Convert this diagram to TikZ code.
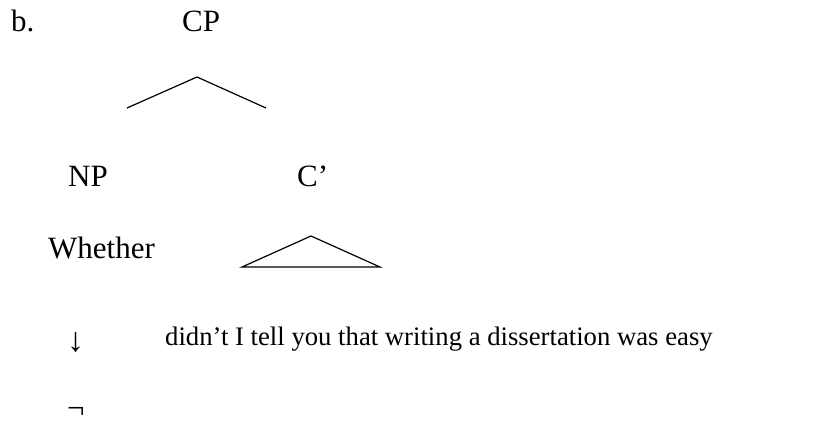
\documentclass[tikz,border=0pt]{standalone}
\usepackage{fontspec}
\setmainfont{Liberation Serif}
\begin{document}
\begin{tikzpicture}[x=1pt,y=-1pt,
  lbl/.style={inner sep=0pt,anchor=base west,font=\fontsize{31}{36}\selectfont},
  sent/.style={inner sep=0pt,anchor=base west,font=\fontsize{26.7}{32}\selectfont},
  branch/.style={line width=1.2pt,black}]
\useasboundingbox (0,0) rectangle (822,421);
\node[lbl] (b) at (11,31) {b.};
\node[lbl] (cp) at (182,31) {CP};
\coordinate (cptop) at (197,77);
\coordinate (cpl) at (127,108);
\coordinate (cpr) at (266,108);
\draw[branch] (cpl) -- (cptop) -- (cpr);
\node[lbl] (np) at (68,186) {NP};
\node[lbl] (cbar) at (297,186) {C’};
\node[lbl] (wh) at (48,258) {Whether};
\coordinate (tt) at (311,236);
\coordinate (tl) at (242,267);
\coordinate (tr) at (380,267);
\draw[branch] (tl) -- (tt) -- (tr) -- cycle;
\node[lbl,font=\fontsize{34}{40}\selectfont] (arr) at (67,351) {↓};
\node[sent] (s) at (165,345) {didn’t I tell you that writing a dissertation was easy};
\node[lbl] (neg) at (67,418) {¬};
\end{tikzpicture}
\end{document}
